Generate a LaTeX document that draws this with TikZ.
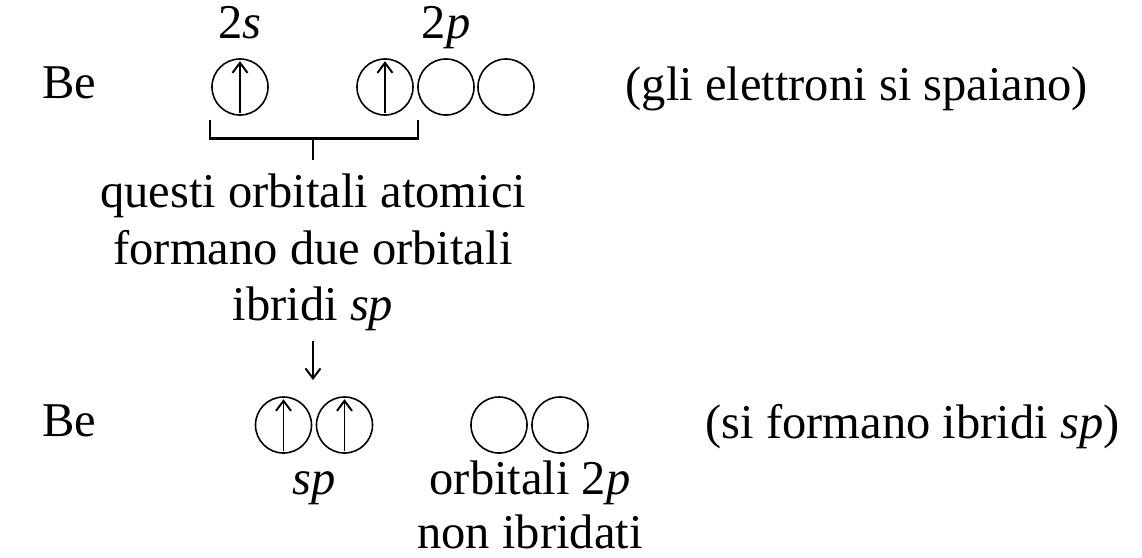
\documentclass[tikz,border=0pt]{standalone}
\usepackage{fontspec}
\setmainfont{Liberation Serif}
\usetikzlibrary{positioning,arrows.meta}

\begin{document}
\begin{tikzpicture}[
  x=0.01cm, y=-0.01cm,
  orb/.style={circle, draw, minimum size=5.6mm, inner sep=0pt, line width=0.45pt},
  txt/.style={inner sep=0pt, anchor=base, font=\fontsize{13.8}{16}\selectfont},
  spin/.style={-{Straight Barb[length=1mm,width=1.5mm]}, line width=0.55pt},
  brace/.style={line width=0.85pt}
]
  \useasboundingbox (0,0) rectangle (1142,557);

  % Be: stato eccitato
  \node[txt] (be1) at (69,98) {Be};
  \node[orb] (s1) at (240,87) {};
  \node[orb] (p1) at (385,87) {};
  \node[orb] (p2) at (446,87) {};
  \node[orb] (p3) at (506,87) {};
  \node[txt] (l2s) at (240,38) {2\textit{s}};
  \node[txt] (l2p) at (446,38) {2\textit{p}};
  \node[txt, anchor=base west] (nota1) at (625,100) {(gli elettroni si spaiano)};

  \draw[spin] ([yshift=0.3mm]s1.south) -- ([yshift=-0.3mm]s1.north);
  \draw[spin] ([yshift=0.3mm]p1.south) -- ([yshift=-0.3mm]p1.north);

  % parentesi sotto 2s e 2p
  \coordinate (bl) at (210,120);
  \coordinate (br) at (418,120);
  \coordinate (bm) at (313,138);
  \coordinate (bs) at (313,160);
  \draw[brace] (bl) |- (bm) -| (br);
  \draw[brace] (bm) -- (bs);

  \node[txt] (q1) at (313,207) {questi orbitali atomici};
  \node[txt] (q2) at (313,264) {formano due orbitali};
  \node[txt] (q3) at (313,320) {ibridi \textit{sp}};

  \coordinate (fr) at (313,380);
  \draw[spin] ([yshift=-1mm]q3.south) -- (fr);

  % Be: ibridi sp
  \node[txt] (be2) at (69,436) {Be};
  \node[orb] (h1) at (283.5,425) {};
  \node[orb] (h2) at (344.5,425) {};
  \node[orb] (u1) at (499,425) {};
  \node[orb] (u2) at (560,425) {};
  \draw[spin] ([yshift=0.3mm]h1.south) -- ([yshift=-0.3mm]h1.north);
  \draw[spin] ([yshift=0.3mm]h2.south) -- ([yshift=-0.3mm]h2.north);

  \node[txt] (lsp) at (314,494) {\textit{sp}};
  \node[txt] (lnp1) at (530,494) {orbitali 2\textit{p}};
  \node[txt] (lnp2) at (530,548) {non ibridati};
  \node[txt, anchor=base west] (nota2) at (705,438) {(si formano ibridi \textit{sp})};
\end{tikzpicture}
\end{document}
